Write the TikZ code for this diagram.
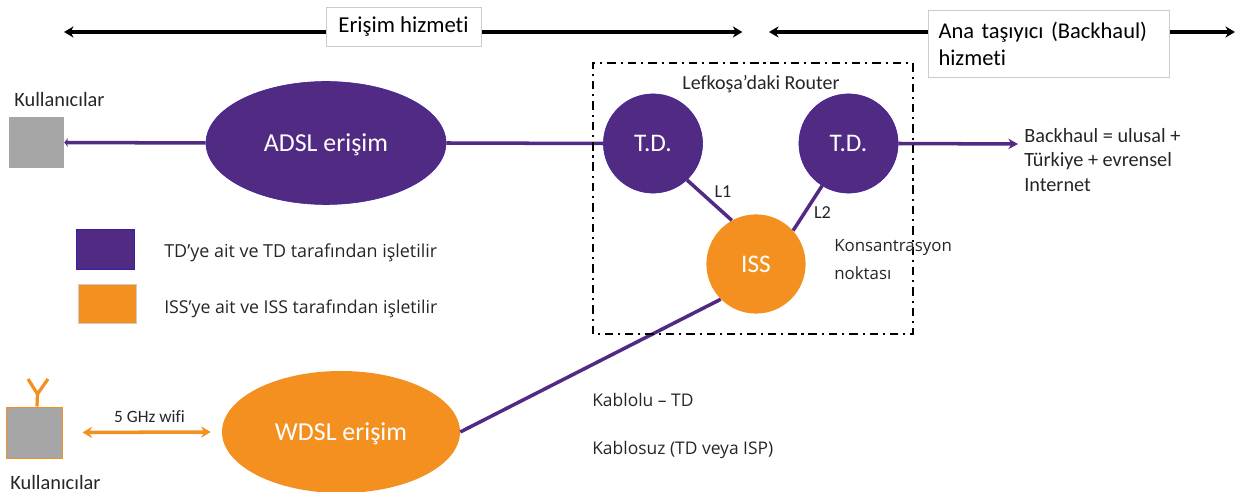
\documentclass[tikz,border=0pt]{standalone}
\usepackage{fontspec}
\setmainfont{Carlito}[RawFeature=-liga]
\newfontfamily\thinfont{Open Sans}
\usetikzlibrary{arrows.meta,shapes.geometric}
\definecolor{tdpurple}{HTML}{512A84}
\definecolor{issorange}{HTML}{F39020}
\definecolor{boxgray}{HTML}{A6A6A6}

\begin{document}
\begin{tikzpicture} [{tdnode/.style={circle,draw=tdpurple!80!blue,fill=tdpurple,text=white,inner sep=0,text depth=0pt,minimum size=2.48cm,font=\fontsize{18}{20}\selectfont}},{issnode/.style={circle,fill=issorange,text=white,inner sep=0,minimum size=2.48cm,font=\fontsize{18}{20}\selectfont}},{access/.style={ellipse,inner sep=0,text=white,text depth=0pt,font=\fontsize{18.4}{20}\selectfont}},{link/.style={tdpurple,line width=2.5pt}},{span/.style={black,line width=2.7pt,{Stealth[length=2.4mm,width=2.8mm]}-{Stealth[length=2.4mm,width=2.8mm]}}},{txt/.style={right,inner sep=0,text=black!85,font=\fontsize{14.5}{17}\selectfont}},{soft/.style={right,inner sep=0,align=left,text=black!85,font=\thinfont\fontsize{12.4}{14}\selectfont}},{titlebox/.style={fill=white,draw=gray!40,line width=0.5pt,inner sep=0}}]
	\useasboundingbox (0,0) rectangle (31,12.3);
	\clip (0,0) rectangle (31,12.3);

	%%coordinates of free ends
	\coordinate (spanA1) at (1.6,11.5);
	\coordinate (spanA2) at (18.56,11.5);
	\coordinate (spanB1) at (19.225,11.5);
	\coordinate (spanB2) at (30.875,11.5);
	\coordinate (bhEnd) at (25.45,8.7);
	\coordinate (antFoot) at (0.9375,2.45);
	\coordinate (antL) at (0.7,2.825);
	\coordinate (antR) at (1.2,2.825);

	%%service spans
	\draw [span] (spanA1) -- (spanA2);
	\draw [span] (spanB1) -- (spanB2);
	\node (erisimBox) [titlebox,minimum width=3.875cm,minimum height=0.975cm,font=\fontsize{16.2}{19}\selectfont] at (10.0875,11.6375) {Erişim hizmeti};
	\node (anaBox) [titlebox,minimum width=6.025cm,minimum height=1.675cm,align=left,text width=5.5cm,font=\fontsize{16}{19.2}\selectfont] at (26.2125,11.2125) {Ana taşıyıcı (Backhaul)\\hizmeti};

	%%access nodes
	\node (adsl) [access,draw=tdpurple!80!blue,fill=tdpurple,minimum width=6cm,minimum height=3.075cm] at (8.15,8.725) {ADSL erişim};
	\node (wdsl) [access,fill=issorange,minimum width=5.95cm,minimum height=3.05cm] at (8.525,1.5) {WDSL erişim};

	%%router
	\node (td1) [tdnode] at (16.325,8.7125) {T.D.};
	\node (td2) [tdnode] at (21.2125,8.7125) {T.D.};
	\node (iss) [issnode] at (18.9,5.7) {ISS};

	%%users
	\node (userA) [fill=boxgray,inner sep=0,minimum width=1.375cm,minimum height=1.275cm] at (0.9125,8.7375) {};
	\node (userB) [fill=boxgray,draw=issorange,line width=0.7pt,inner sep=0,minimum width=1.4cm,minimum height=1.275cm] at (0.85,1.4875) {};

	%%links
	\draw [link,{Stealth[length=0.9mm,width=2.2mm]}-] (userA.east) -- (adsl.west);
	\draw [link] (adsl.east) -- (td1.west);
	\draw [link] (td1.-47) -- (iss.119);
	\draw [link] (td2.-122) -- (iss.42);
	\draw [link] (iss.225) -- (wdsl.east);
	\draw [link,-{Stealth[length=2.4mm,width=2.6mm]}] (td2.east) -- (bhEnd);
	\draw [issorange,line width=2.5pt,{Stealth[length=2.4mm,width=2.8mm]}-{Stealth[length=2.4mm,width=2.8mm]},shorten <=0.5cm,shorten >=0.275cm] (userB.east) -- (wdsl.west);

	%%antenna
	\draw [issorange,line width=2.3pt] (userB.north) ++(0.075,0) -- (antFoot) -- (antL);
	\draw [issorange,line width=2.3pt] (antFoot) -- (antR);

	%%router frame
	\draw [black,line width=1.3pt,dash pattern=on 6pt off 3.5pt on 1.5pt off 3.5pt] (14.825,3.95) rectangle (22.825,10.725);

	%%legend
	\node (legA) [fill=tdpurple,draw=tdpurple!70!blue,inner sep=0,minimum width=1.45cm,minimum height=1cm] at (2.625,6.075) {};
	\node (legB) [fill=issorange,draw=gray!40,line width=0.3pt,inner sep=0,minimum width=1.45cm,minimum height=0.975cm] at (2.675,4.7125) {};
	\node (legAtxt) [soft,font=\thinfont\fontsize{12.75}{14}\selectfont] at (4.1,5.98) {TD’ye ait ve TD tarafından işletilir};
	\node (legBtxt) [soft,font=\thinfont\fontsize{12.6}{14}\selectfont] at (4.1,4.58) {ISS’ye ait ve ISS tarafından işletilir};

	%%labels
	\node (userAtxt) [txt] at (0.35,9.8) {Kullanıcılar};
	\node (userBtxt) [txt] at (0.25,0.25) {Kullanıcılar};
	\node (wifi) [font=\fontsize{12.3}{14}\selectfont,inner sep=0,text=black!85] at (3.7375,1.875) {5 GHz wifi};
	\node (router) [font=\fontsize{14.2}{17}\selectfont,inner sep=0,text=black!85] at (19.025,10.2) {Lefkoşa’daki Router};
	\node (l1) [font=\fontsize{13}{15}\selectfont,inner sep=0,text=black!85] at (18.075,7.5) {L1};
	\node (l2) [font=\fontsize{13}{15}\selectfont,inner sep=0,text=black!85] at (20.5625,6.975) {L2};
	\node (konsantre) [soft,font=\thinfont\fontsize{12}{19.9}\selectfont] at (20.85,5.8) {Konsantrasyon\\noktası};
	\node (backhaul) [right,inner sep=0,align=left,text=black!85,font=\fontsize{14.4}{17.4}\selectfont] at (25.6,8.3) {Backhaul = ulusal +\\Türkiye + evrensel\\Internet};
	\node (kablolu) [soft] at (14.8,2.3) {Kablolu – TD};
	\node (kablosuz) [soft] at (14.8,1.04) {Kablosuz (TD veya ISP)};
\end{tikzpicture}
\end{document}
